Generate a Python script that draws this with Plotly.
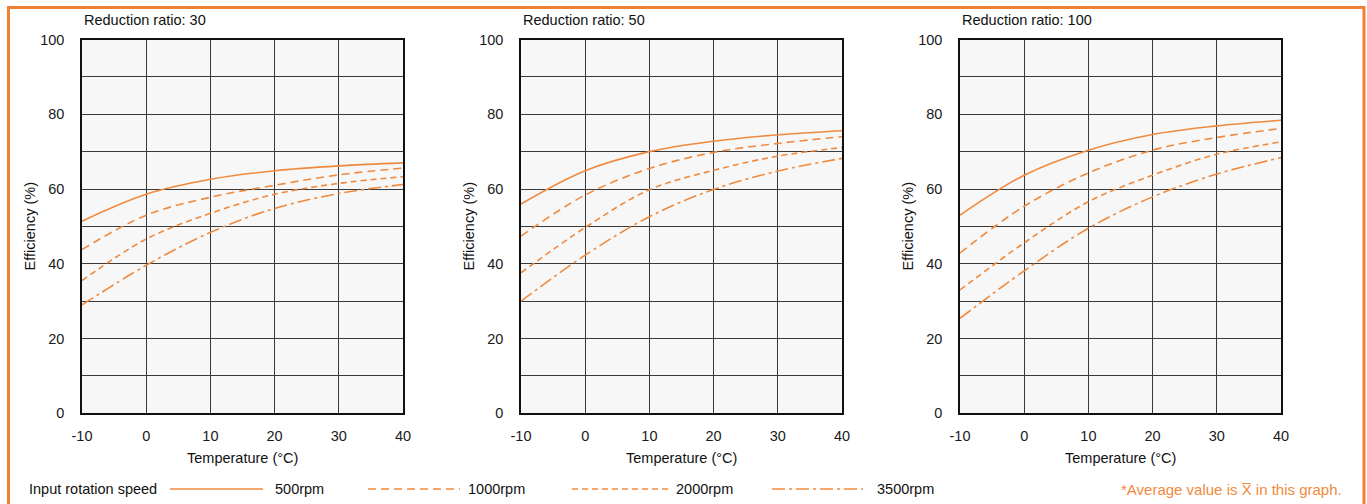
import plotly.graph_objects as go

# ---------------- data ----------------
temperature = [-10, 0, 10, 20, 30, 40]

ratio_titles = ["Reduction ratio: 30", "Reduction ratio: 50", "Reduction ratio: 100"]
speed_labels = ["500rpm", "1000rpm", "2000rpm", "3500rpm"]

r30_500 = [51.4, 58.6, 62.6, 64.9, 66.2, 67.0]
r30_1000 = [43.8, 53.0, 57.8, 61.0, 63.8, 65.6]
r30_2000 = [35.5, 46.6, 53.5, 58.6, 61.5, 63.3]
r30_3500 = [29.0, 39.6, 48.4, 54.8, 58.8, 61.2]

r50_500 = [56.0, 64.9, 70.0, 72.8, 74.5, 75.6]
r50_1000 = [47.4, 58.4, 65.5, 69.8, 72.2, 74.0]
r50_2000 = [37.6, 49.7, 59.8, 65.0, 68.8, 71.1]
r50_3500 = [30.0, 42.3, 52.6, 59.9, 64.8, 68.2]

r100_500 = [53.0, 63.7, 70.4, 74.6, 76.9, 78.4]
r100_1000 = [42.9, 55.4, 64.3, 70.4, 73.8, 76.2]
r100_2000 = [33.0, 45.6, 56.6, 63.7, 69.3, 72.6]
r100_3500 = [25.4, 38.1, 49.5, 57.9, 64.0, 68.4]

y_ticks = [0, 20, 40, 60, 80, 100]
y_tick_labels = ["0", "20", "40", "60", "80", "100"]
x_ticks = [-10, 0, 10, 20, 30, 40]
x_tick_labels = ["-10", "0", "10", "20", "30", "40"]

panels = [
    [r30_500, r30_1000, r30_2000, r30_3500],
    [r50_500, r50_1000, r50_2000, r50_3500],
    [r100_500, r100_1000, r100_2000, r100_3500],
]

# ---------------- style ----------------
W, H = 1367, 504
FONT = "Liberation Sans, Arial, Helvetica, sans-serif"
ORANGE = "#F08A3E"
FRAME = "#EE8134"
dashes = ["solid", "8px,5px", "6px,4px", "13px,4px,3px,4px"]

plot_left_px = [82, 521, 960]
plot_w_px = 321
plot_top_px, plot_bot_px = 39.5, 413.3


def px(x):
    return x / W


def py(y):
    return 1 - y / H


fig = go.Figure()

for i, series in enumerate(panels):
    ax = "" if i == 0 else str(i + 1)
    for j, vals in enumerate(series):
        fig.add_trace(go.Scatter(
            x=temperature, y=vals, mode="lines",
            line=dict(color=ORANGE, width=1.6, dash=dashes[j], shape="spline", smoothing=1.0),
            xaxis="x" + ax, yaxis="y" + ax, showlegend=False,
            name=speed_labels[j], hoverinfo="x+y+name",
        ))
    x0 = plot_left_px[i]
    x1 = x0 + plot_w_px
    common = dict(showline=True, mirror=True, linecolor="#111", linewidth=1.5,
                  showgrid=True, gridcolor="#3a3a3a", gridwidth=1, zeroline=False,
                  automargin=False,
                  ticks="outside", tickcolor="rgba(0,0,0,0)",
                  tickfont=dict(family=FONT, size=14.5, color="#1a1a1a"))
    fig.update_layout(**{
        "xaxis" + ax: dict(domain=[px(x0), px(x1)], range=[-10, 40], tickvals=x_ticks,
                           ticktext=x_tick_labels, ticklen=9, anchor="y" + ax, **common),
        "yaxis" + ax: dict(domain=[py(plot_bot_px), py(plot_top_px)], range=[0, 100],
                           tickvals=y_ticks, ticktext=y_tick_labels, ticklen=13, anchor="x" + ax,
                           minor=dict(dtick=10, showgrid=True, gridcolor="#3a3a3a", gridwidth=1),
                           **common),
    })
    # panel title
    fig.add_annotation(text=ratio_titles[i], xref="paper", yref="paper",
                       x=px(x0), y=py(20), xanchor="left", yanchor="middle", showarrow=False,
                       font=dict(family=FONT, size=14.5, color="#111"))
    # axis titles
    fig.add_annotation(text="Temperature (°C)", xref="paper", yref="paper",
                       x=px((x0 + x1) / 2), y=py(458), xanchor="center", yanchor="middle",
                       showarrow=False, font=dict(family=FONT, size=14.5, color="#111"))
    fig.add_annotation(text="Efficiency (%)", xref="paper", yref="paper",
                       x=px(x0 - 52), y=py((plot_top_px + plot_bot_px) / 2), textangle=-90,
                       xanchor="center", yanchor="middle", showarrow=False,
                       font=dict(family=FONT, size=14.5, color="#111"))

# ---------------- legend (drawn manually) ----------------
leg_y = 489
fig.add_annotation(text="Input rotation speed", xref="paper", yref="paper",
                   x=px(27), y=py(leg_y), xanchor="left", yanchor="middle", showarrow=False,
                   font=dict(family=FONT, size=14.5, color="#111"))
leg_lines = [(170, 263), (368, 460), (572, 670), (772, 863)]
leg_text_x = [273, 466, 674, 875]
for j in range(4):
    a, b = leg_lines[j]
    fig.add_shape(type="line", xref="paper", yref="paper", x0=px(a), x1=px(b),
                  y0=py(leg_y), y1=py(leg_y), line=dict(color=ORANGE, width=1.6, dash=dashes[j]))
    fig.add_annotation(text=speed_labels[j], xref="paper", yref="paper",
                       x=px(leg_text_x[j]), y=py(leg_y), xanchor="left", yanchor="middle",
                       showarrow=False, font=dict(family=FONT, size=14.5, color="#111"))

fig.add_annotation(text="*Average value is X\u0305 in this graph.", xref="paper", yref="paper",
                   x=px(1344), y=py(leg_y), xanchor="right", yanchor="middle", showarrow=False,
                   font=dict(family=FONT, size=15, color=ORANGE))

# ---------------- orange frame ----------------
fig.add_shape(type="rect", xref="paper", yref="paper", x0=px(8.5), x1=px(1364),
              y0=-0.1, y1=py(7.5), line=dict(color=FRAME, width=3), fillcolor="rgba(0,0,0,0)",
              layer="above")

fig.update_layout(
    template="none",
    width=W, height=H, margin=dict(l=0, r=0, t=0, b=0, pad=0, autoexpand=False),
    paper_bgcolor="white", plot_bgcolor="#F6F7F6",
    font=dict(family=FONT, size=14.5, color="#111"),
    showlegend=False,
)

fig.write_html("out.html", config={"displayModeBar": False},
               post_script="document.body.style.margin='0';document.body.style.overflow='hidden';")
